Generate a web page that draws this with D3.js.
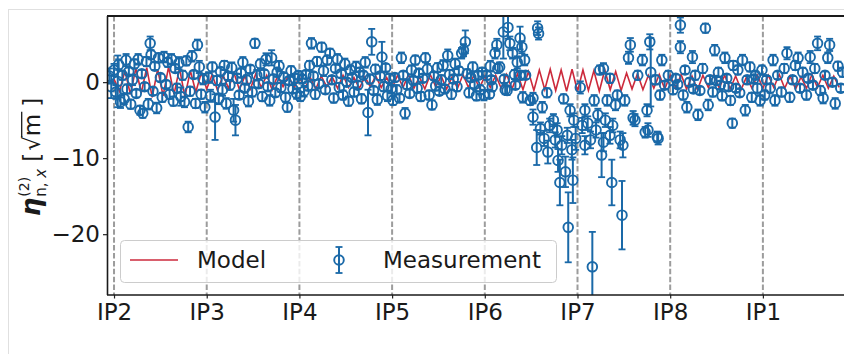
<!DOCTYPE html>
<html>
<head>
<meta charset="utf-8">
<script src="https://cdn.jsdelivr.net/npm/d3@7"></script>
<style>
  body { margin: 0; background: #fff; }
  svg text { font-family: "DejaVu Sans", sans-serif; }
</style>
</head>
<body>
<svg id="fig" width="844" height="354"></svg>
<script>
// x axis: position in the ring, IP2 = 0, one unit per arc
var ipLabels = ["IP2", "IP3", "IP4", "IP5", "IP6", "IP7", "IP8", "IP1"];
var ipPos = [0, 1, 2, 3, 4, 5, 6, 7];
var yTicks = [0, -10, -20];

// measurement [s, value, error], one array per arc
var arcIP2IP3 = [[-0.05,0.8,1.0],[-0.03,-0.6,1.5],[0.00,1.6,0.8],[0.02,-1.3,0.9],[0.04,0.1,3.4],[0.05,2.3,0.7],[0.07,-2.6,0.8],[0.09,0.9,0.6],[0.11,-2.2,0.7],[0.13,2.9,0.8],[0.14,-0.9,0.6],[0.16,1.4,0.5],[0.18,-2.9,0.6],[0.20,0.3,0.7],[0.22,2.4,0.6],[0.24,-1.5,0.5],[0.26,3.0,0.7],[0.28,-3.7,0.6],[0.30,1.1,0.5],[0.31,-4.1,0.6],[0.33,-0.6,0.5],[0.35,2.7,0.6],[0.37,-2.9,0.7],[0.39,5.1,0.9],[0.40,3.6,0.6],[0.42,-1.2,0.5],[0.44,2.1,0.5],[0.46,-3.4,0.7],[0.48,3.2,0.6],[0.50,0.6,0.5],[0.52,-2.0,0.6],[0.54,3.3,0.7],[0.56,-0.3,0.5],[0.58,2.6,0.6],[0.60,-1.6,0.6],[0.62,3.0,0.7],[0.64,-2.5,0.6],[0.66,1.8,0.5],[0.68,-0.8,0.6],[0.70,2.5,0.8],[0.72,-1.9,1.2],[0.74,0.9,0.6],[0.76,-2.6,0.7],[0.78,2.8,0.6],[0.80,-5.9,0.7],[0.82,-1.2,0.6],[0.84,3.4,0.7],[0.86,1.0,0.5],[0.88,-2.8,0.6],[0.90,4.9,0.7],[0.92,2.0,0.8],[0.94,-1.6,0.6],[0.96,0.4,0.7],[0.98,-3.3,0.7]];
var arcIP3IP4 = [[1.02,0.6,0.7],[1.04,-1.8,0.8],[1.06,2.0,0.6],[1.09,-4.6,3.0],[1.11,0.2,0.6],[1.13,-2.2,0.7],[1.15,1.4,0.5],[1.17,-1.0,0.8],[1.19,2.2,0.6],[1.21,-2.8,0.7],[1.23,0.8,0.5],[1.25,-0.4,0.6],[1.27,1.9,0.7],[1.29,-3.7,1.5],[1.31,-5.0,2.0],[1.33,0.5,0.6],[1.35,-1.7,0.5],[1.37,1.2,0.6],[1.39,2.6,0.7],[1.41,-0.8,0.5],[1.43,0.3,0.6],[1.45,-2.5,0.7],[1.47,1.7,0.5],[1.49,-1.3,0.6],[1.52,5.1,0.6],[1.54,0.9,0.7],[1.56,-0.2,0.5],[1.58,2.4,0.6],[1.60,-1.9,0.6],[1.62,1.1,0.5],[1.64,3.0,0.8],[1.66,-0.6,0.5],[1.68,-2.4,0.7],[1.70,3.2,1.0],[1.72,0.4,0.6],[1.74,-1.4,0.5],[1.76,1.3,0.6],[1.78,2.1,0.7],[1.80,-0.7,0.6],[1.83,0.7,0.5],[1.85,-2.0,0.6],[1.87,-3.3,0.6],[1.89,0.2,0.5],[1.91,1.5,0.6],[1.93,-0.9,0.5],[1.95,0.5,0.6],[1.97,-1.5,0.7],[1.99,0.9,0.5]];
var arcIP4IP5 = [[2.01,-1.9,0.6],[2.03,0.4,0.5],[2.05,-1.2,0.7],[2.07,1.0,0.5],[2.09,-0.5,0.6],[2.11,2.2,0.6],[2.13,5.1,0.7],[2.15,0.8,0.5],[2.17,-1.6,0.6],[2.19,2.7,0.6],[2.21,-0.2,0.5],[2.24,4.6,0.6],[2.26,1.5,0.7],[2.28,-1.0,0.5],[2.30,2.9,0.6],[2.33,3.8,0.6],[2.35,0.3,0.5],[2.37,-2.1,0.6],[2.39,1.8,0.5],[2.41,3.0,0.7],[2.43,-0.7,0.6],[2.45,1.1,0.5],[2.47,-1.7,0.6],[2.49,2.4,0.7],[2.51,0.0,0.5],[2.53,-2.5,0.6],[2.55,1.6,0.6],[2.57,0.6,0.5],[2.59,-1.3,0.6],[2.61,2.0,0.7],[2.63,-0.4,0.5],[2.65,1.3,0.6],[2.67,-2.2,0.6],[2.69,0.9,0.5],[2.71,2.6,0.7],[2.74,-4.0,3.0],[2.76,0.4,0.6],[2.78,5.3,1.7],[2.80,-1.1,0.5],[2.82,1.7,0.6],[2.84,-2.3,0.7],[2.87,0.8,0.5],[2.89,3.3,2.0],[2.91,-0.6,0.6],[2.93,1.9,0.5],[2.95,-1.8,0.7],[2.97,0.5,0.6],[2.99,-0.9,0.5]];
var arcIP5IP6 = [[3.01,-2.4,0.6],[3.03,0.6,0.5],[3.05,-1.0,0.6],[3.08,-2.1,0.5],[3.10,3.2,0.7],[3.12,0.9,0.5],[3.14,-4.1,0.7],[3.16,-0.3,0.6],[3.19,-1.5,0.5],[3.21,1.6,0.6],[3.23,0.2,0.5],[3.25,2.9,0.6],[3.27,-0.8,0.6],[3.29,1.2,0.5],[3.31,-1.9,0.6],[3.33,0.5,0.5],[3.36,3.2,0.6],[3.38,1.7,0.7],[3.40,-1.7,0.6],[3.43,-3.0,0.6],[3.45,0.8,0.5],[3.47,-0.5,0.6],[3.49,1.9,0.6],[3.51,-1.2,0.5],[3.53,0.3,0.6],[3.55,2.2,0.7],[3.57,-0.9,0.5],[3.60,3.5,0.8],[3.62,1.0,0.6],[3.64,-1.6,0.6],[3.66,0.4,0.5],[3.68,2.4,0.7],[3.70,-0.6,0.6],[3.72,1.5,0.5],[3.75,3.8,0.7],[3.77,4.2,0.8],[3.79,5.3,1.5],[3.81,1.1,0.6],[3.83,-1.4,0.6],[3.85,0.6,0.5],[3.87,2.0,0.6],[3.89,-0.3,0.5],[3.91,-1.8,0.6],[3.93,0.9,0.5],[3.95,-1.0,0.6],[3.97,1.3,0.6],[3.99,-1.7,0.7]];
var arcIP6IP7 = [[4.02,0.9,0.6],[4.05,-1.6,0.5],[4.06,2.1,0.7],[4.07,0.3,0.5],[4.08,-0.6,0.6],[4.11,3.8,0.7],[4.13,4.9,0.8],[4.14,1.8,0.6],[4.16,2.0,0.6],[4.20,6.6,3.5],[4.21,0.4,0.5],[4.22,-1.0,0.6],[4.24,-1.1,0.6],[4.25,7.2,1.5],[4.27,5.1,0.9],[4.30,3.8,0.7],[4.32,1.0,0.6],[4.33,-0.4,0.5],[4.35,2.6,0.8],[4.38,5.8,1.5],[4.38,0.9,0.6],[4.40,4.6,0.8],[4.41,-2.0,0.7],[4.43,2.9,0.7],[4.44,0.9,0.5],[4.49,-2.4,0.6],[4.52,-2.1,0.7],[4.52,-4.6,1.0],[4.56,-8.6,2.3],[4.57,7.1,0.9],[4.58,6.4,0.8],[4.60,-6.1,0.8],[4.62,-3.3,0.7],[4.64,-7.4,1.0],[4.67,-1.4,0.6],[4.68,-9.2,1.5],[4.70,-5.7,0.9],[4.74,-5.0,0.8],[4.76,-7.6,1.0],[4.78,-6.3,0.9],[4.79,-10.3,1.5],[4.81,-13.2,3.0],[4.83,-8.3,1.2],[4.85,-2.2,0.6],[4.87,-11.8,2.0],[4.89,-7.0,1.0],[4.90,-19.1,4.6],[4.92,-3.7,0.8],[4.94,-8.9,1.3],[4.95,-12.9,3.0],[4.96,-5.0,0.9],[4.98,-7.4,1.5]];
var arcIP7IP8 = [[5.03,-0.7,0.8],[5.05,-5.7,1.0],[5.08,-3.7,0.8],[5.08,-8.3,1.2],[5.11,-5.4,0.9],[5.14,-7.6,1.1],[5.16,-24.3,4.6],[5.18,-2.4,0.7],[5.20,-6.3,1.0],[5.22,-4.3,0.8],[5.24,1.6,0.6],[5.26,-9.6,2.9],[5.28,-7.9,1.2],[5.28,1.8,0.7],[5.30,-5.0,0.9],[5.32,-2.4,0.7],[5.35,-7.0,1.1],[5.35,0.5,0.6],[5.37,-13.2,3.0],[5.38,-5.7,0.9],[5.41,-3.0,0.7],[5.43,-1.7,0.6],[5.46,-7.6,1.1],[5.48,-17.5,4.5],[5.49,-8.3,1.6],[5.51,-2.4,0.7],[5.55,3.2,0.8],[5.57,4.9,0.9],[5.60,-4.7,0.9],[5.62,-5.0,0.8],[5.65,0.9,0.6],[5.70,2.9,0.7],[5.73,-6.6,0.7],[5.75,-3.7,0.8],[5.76,-6.3,0.9],[5.78,5.3,1.0],[5.79,1.3,4.5],[5.84,0.3,0.6],[5.86,-7.2,0.7],[5.87,-7.4,0.8],[5.89,-1.7,0.6],[5.91,2.9,0.7],[5.94,-0.4,0.5],[5.98,0.9,0.6]];
var arcIP8IP1 = [[6.03,-1.0,0.6],[6.06,0.5,0.5],[6.08,-0.3,0.5],[6.11,7.5,1.0],[6.11,4.6,0.8],[6.14,-1.7,0.6],[6.16,1.6,0.5],[6.18,-3.3,0.7],[6.21,0.0,0.5],[6.24,3.3,0.8],[6.25,-0.9,0.5],[6.27,0.9,0.6],[6.30,-4.3,0.7],[6.32,-1.1,0.5],[6.35,1.8,0.6],[6.38,7.1,0.6],[6.41,-3.0,0.7],[6.43,0.3,0.5],[6.46,-1.3,0.6],[6.48,4.2,0.7],[6.50,0.2,0.5],[6.52,1.3,0.6],[6.54,-0.4,0.5],[6.56,-1.8,0.6],[6.59,3.2,0.7],[6.61,0.5,0.5],[6.63,-0.6,0.5],[6.65,-2.4,0.6],[6.67,-5.4,0.6],[6.68,2.2,0.6],[6.71,-0.8,0.5],[6.73,1.6,0.6],[6.75,-1.4,0.5],[6.78,2.9,0.7],[6.81,-3.7,0.7],[6.83,0.3,0.5],[6.86,2.0,0.6],[6.88,-2.0,0.6],[6.90,0.4,0.5],[6.92,0.9,0.5],[6.94,-0.8,0.6],[6.97,-2.4,0.7],[6.99,1.6,0.6]];
var arcIP1IP2 = [[7.02,-1.7,0.6],[7.04,0.3,0.5],[7.08,-0.8,0.6],[7.11,2.9,0.7],[7.13,-2.4,0.7],[7.16,0.9,0.5],[7.20,-1.3,0.6],[7.23,1.8,0.6],[7.26,3.8,0.8],[7.29,-2.0,0.6],[7.32,0.3,0.5],[7.35,2.2,0.6],[7.38,3.2,0.7],[7.40,-0.8,0.5],[7.43,1.3,0.6],[7.47,-1.7,0.6],[7.49,0.5,0.5],[7.51,3.3,0.8],[7.54,-0.4,0.5],[7.56,1.8,0.6],[7.59,5.1,0.9],[7.62,-1.1,0.6],[7.65,-2.1,0.7],[7.67,0.9,0.5],[7.70,3.2,0.7],[7.72,4.9,0.8],[7.75,0.0,0.5],[7.78,-2.8,0.7],[7.81,2.1,0.6],[7.84,-0.8,0.5],[7.86,1.3,0.6]];

// model, 17 samples per arc
var modelPerArc = 17;
var modelIP2IP3 = [0.4,-1.2,1.5,-1.6,1.8,-1.4,1.9,-2.0,1.7,-1.8,2.0,-1.6,1.8,-1.9,1.5,-1.3,1.2];
var modelIP3IP4 = [-0.9,1.0,-1.1,0.9,-0.8,1.2,-1.0,0.8,-0.9,1.1,-0.7,0.9,-1.0,0.8,-0.6,0.9,-0.8];
var modelIP4IP5 = [0.7,-0.8,0.6,-0.9,0.8,-0.6,0.7,-0.8,0.9,-0.7,0.6,-0.8,0.7,-0.6,0.8,-0.7,0.6];
var modelIP5IP6 = [-0.8,0.9,-0.7,1.0,-0.8,0.7,-0.9,1.0,-0.6,0.8,-0.9,0.7,-0.8,1.0,-0.7,0.9,-0.8];
var modelIP6IP7 = [0.8,-0.7,0.9,-0.8,1.0,-0.9,1.1,-1.0,1.4,-1.1,1.6,-1.0,1.7,-1.1,1.6,-1.2,1.7];
var modelIP7IP8 = [-1.2,1.6,-1.1,1.5,-1.2,1.6,-1.0,1.4,-1.1,1.2,-0.9,1.1,-1.0,0.9,-0.8,1.0,-0.9];
var modelIP8IP1 = [0.9,-0.8,1.0,-0.9,0.8,-1.0,0.9,-0.7,1.0,-0.8,0.9,-0.9,0.8,-1.0,0.7,-0.8,0.9];
var modelIP1IP2 = [-0.8,0.9,-0.7,1.0,-0.8,0.8,-0.9,0.7,-0.8,1.0,-0.7,0.9,-0.8,0.8,-0.7];

var measurement = [].concat(arcIP2IP3, arcIP3IP4, arcIP4IP5, arcIP5IP6, arcIP6IP7, arcIP7IP8, arcIP8IP1, arcIP1IP2);
var modelArcs = [modelIP2IP3, modelIP3IP4, modelIP4IP5, modelIP5IP6, modelIP6IP7, modelIP7IP8, modelIP8IP1, modelIP1IP2];
var model = [];
modelArcs.forEach(function(arc, a) {
  arc.forEach(function(v, i) { model.push([a + i / modelPerArc, v]); });
});

var blue = "#1a69a8", red = "#cc2a3c";
var fontSize = "23px";

// plot box
var margin = {top: 16, left: 108},
    width = 844 - margin.left,
    height = 295 - margin.top;

var svg = d3.select("#fig");

// faint figure border
svg.append("rect")
  .attr("x", 8.5).attr("y", 9.5)
  .attr("width", 900).attr("height", 400)
  .attr("fill", "none").attr("stroke", "#e0e0e0");

var g = svg.append("g")
  .attr("transform", "translate(" + margin.left + "," + margin.top + ")");

var x = d3.scaleLinear().domain([-0.065, 7.875]).range([0, width]);
var y = d3.scaleLinear().domain([-28, 8.7]).range([height, 0]);

g.append("clipPath").attr("id", "plotclip")
  .append("rect").attr("width", width).attr("height", height);

var plot = g.append("g").attr("clip-path", "url(#plotclip)");

// IP markers
plot.selectAll(".ipline")
  .data(ipPos)
  .enter().append("line")
    .attr("x1", function(d) { return x(d); })
    .attr("x2", function(d) { return x(d); })
    .attr("y1", 0).attr("y2", height)
    .attr("stroke", "#9c9c9c")
    .attr("stroke-width", 2)
    .attr("stroke-dasharray", "5.5,2.4");

// model line
plot.append("path")
  .datum(model)
  .attr("fill", "none")
  .attr("stroke", red)
  .attr("stroke-width", 1.6)
  .attr("d", d3.line()
    .x(function(d) { return x(d[0]); })
    .y(function(d) { return y(d[1]); }));

// error bars
var pts = plot.append("g").selectAll("g")
  .data(measurement)
  .enter().append("g");

pts.append("line")
  .attr("x1", function(d) { return x(d[0]); })
  .attr("x2", function(d) { return x(d[0]); })
  .attr("y1", function(d) { return y(d[1] + d[2]); })
  .attr("y2", function(d) { return y(d[1] - d[2]); })
  .attr("stroke", blue).attr("stroke-width", 2);

[1, -1].forEach(function(sg) {
  pts.append("line")
    .attr("x1", function(d) { return x(d[0]) - 3.5; })
    .attr("x2", function(d) { return x(d[0]) + 3.5; })
    .attr("y1", function(d) { return y(d[1] + sg * d[2]); })
    .attr("y2", function(d) { return y(d[1] + sg * d[2]); })
    .attr("stroke", blue).attr("stroke-width", 1.8);
});

pts.append("circle")
  .attr("cx", function(d) { return x(d[0]); })
  .attr("cy", function(d) { return y(d[1]); })
  .attr("r", 4.8)
  .attr("fill", "none")
  .attr("stroke", blue)
  .attr("stroke-width", 1.9);

// axes
var yAxis = g.append("g")
  .call(d3.axisLeft(y).tickValues(yTicks).tickSize(5).tickPadding(3));
var xAxis = g.append("g")
  .attr("transform", "translate(0," + height + ")")
  .call(d3.axisBottom(x).tickValues(ipPos).tickSize(3.5).tickPadding(5)
    .tickFormat(function(d, i) { return ipLabels[i]; }));

[yAxis, xAxis].forEach(function(ax) {
  ax.select(".domain").remove();
  ax.selectAll("text").attr("font-size", fontSize).attr("fill", "#1a1a1a")
    .style("font-family", '"DejaVu Sans", sans-serif');
  ax.selectAll("line").attr("stroke", "#222").attr("stroke-width", 1.2);
});

// spines
g.append("line").attr("x1", -1).attr("x2", width).attr("y1", 0).attr("y2", 0)
  .attr("stroke", "#1a1a1a").attr("stroke-width", 2.2);
g.append("line").attr("x1", -0.5).attr("x2", -0.5).attr("y1", 0).attr("y2", height)
  .attr("stroke", "#1a1a1a").attr("stroke-width", 1.6);
g.append("line").attr("x1", -1).attr("x2", width).attr("y1", height).attr("y2", height)
  .attr("stroke", "#1a1a1a").attr("stroke-width", 1.3);

// legend
var leg = svg.append("g");
leg.append("rect")
  .attr("x", 120.5).attr("y", 240.5).attr("width", 436).attr("height", 42).attr("rx", 4)
  .attr("fill", "white").attr("fill-opacity", 0.8)
  .attr("stroke", "#cccccc");
leg.append("line").attr("x1", 130).attr("x2", 178).attr("y1", 260).attr("y2", 260)
  .attr("stroke", red).attr("stroke-width", 1.6);
leg.append("text").attr("x", 197).attr("y", 268).attr("font-size", fontSize).attr("fill", "#1a1a1a").text("Model");
leg.append("line").attr("x1", 339).attr("x2", 339).attr("y1", 247).attr("y2", 273)
  .attr("stroke", blue).attr("stroke-width", 2);
[247, 273].forEach(function(cy) {
  leg.append("line").attr("x1", 335.5).attr("x2", 342.5).attr("y1", cy).attr("y2", cy)
    .attr("stroke", blue).attr("stroke-width", 1.8);
});
leg.append("circle").attr("cx", 339).attr("cy", 260).attr("r", 4.8)
  .attr("fill", "none").attr("stroke", blue).attr("stroke-width", 1.9);
leg.append("text").attr("x", 383).attr("y", 268).attr("font-size", fontSize).attr("fill", "#1a1a1a").text("Measurement");

// y label: eta^(2)_{n,x} [sqrt(m)]
var lab = svg.append("g").attr("transform", "translate(40,157) rotate(-90)");
function piece(t, size, opts) {
  opts = opts || {};
  var el = lab.append("text").attr("font-size", size + "px").attr("fill", "#1a1a1a")
    .attr("font-weight", opts.bold ? "bold" : "normal")
    .attr("font-style", opts.italic ? "italic" : "normal")
    .attr("y", opts.dy || 0).text(t);
  return {el: el, w: el.node().getComputedTextLength()};
}
var pEta = piece("η", 26, {bold: true, italic: true});
var pSup = piece("(2)", 14, {dy: -11});
var pSub = lab.append("text").attr("font-size", "15px").attr("fill", "#1a1a1a").attr("y", 6);
pSub.append("tspan").text("n, ");
pSub.append("tspan").attr("font-style", "italic").text("x");
var wSub = pSub.node().getComputedTextLength();
var pOpen = piece("[", 23);
var pRoot = piece("√", 23);
var pM = piece("m", 23);
var pClose = piece("]", 23);

var gap = 7, scriptW = Math.max(pSup.w, wSub);
var total = pEta.w + 1 + scriptW + gap + pOpen.w + 2 + pRoot.w + pM.w + 7 + pClose.w;
var cx = -total / 2;
pEta.el.attr("x", cx); cx += pEta.w + 1;
pSup.el.attr("x", cx); pSub.attr("x", cx); cx += scriptW + gap;
pOpen.el.attr("x", cx); cx += pOpen.w + 2;
pRoot.el.attr("x", cx); cx += pRoot.w;
pM.el.attr("x", cx);
lab.append("line").attr("x1", cx - 1).attr("x2", cx + pM.w + 2)
  .attr("y1", -18.3).attr("y2", -18.3).attr("stroke", "#1a1a1a").attr("stroke-width", 1.3);
cx += pM.w + 7;
pClose.el.attr("x", cx);
</script>
</body>
</html>
